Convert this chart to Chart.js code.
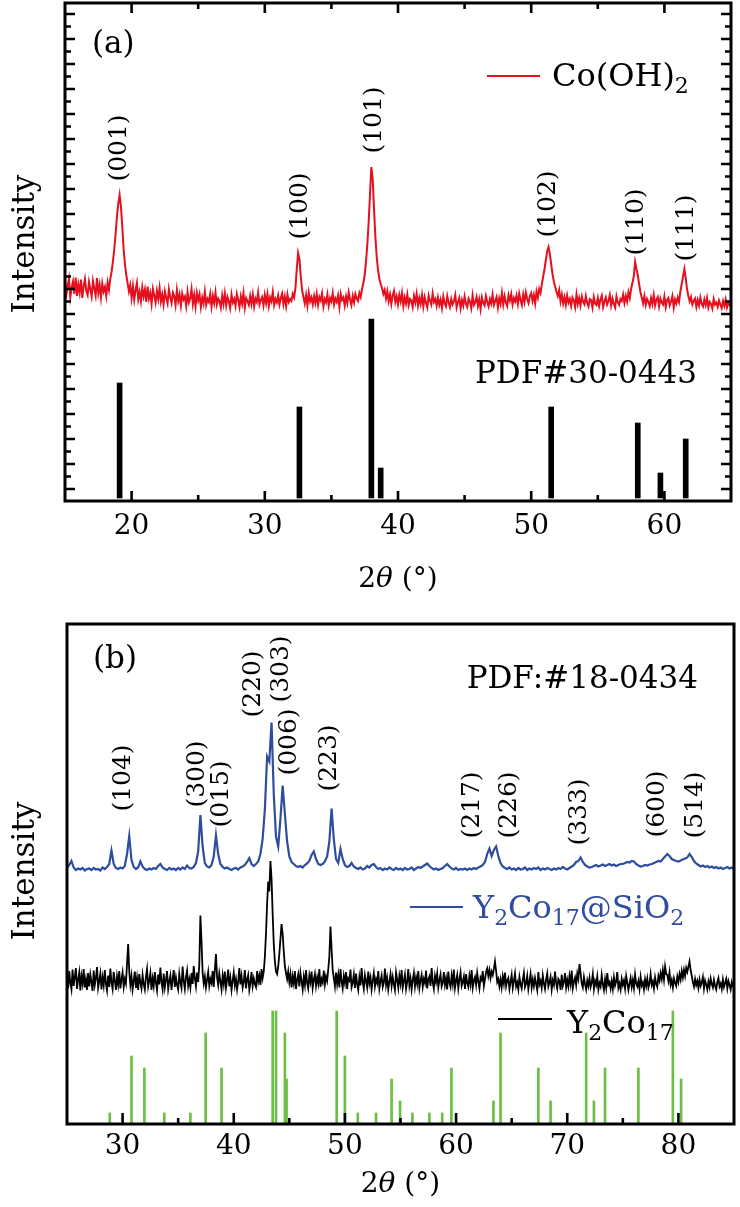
<!DOCTYPE html>
<html><head><meta charset="utf-8">
<script src="https://cdn.jsdelivr.net/npm/chart.js@4.4.1/dist/chart.umd.min.js"></script>
<style>
html,body{margin:0;padding:0;background:#fff;}
#wrap{position:relative;width:740px;height:1207px;overflow:hidden;}
#ca{position:absolute;left:0;top:0;}
#cb{position:absolute;left:0;top:600px;}
</style></head><body>
<div id="wrap">
<canvas id="ca" width="740" height="600"></canvas>
<canvas id="cb" width="740" height="607"></canvas>
</div>
<script>
// ---------- Panel (a) data ----------
const scanAStart = 15, scanAStep = 0.1;          // 2theta scan grid, degrees
const coOH2 = [
 41.8,38.9,40.6,42.1,38.4,40.2,41.5,39.0,42.3,38.6,
 40.9,39.3,41.9,38.2,40.5,42.0,39.6,38.8,41.4,39.9,
 38.5,41.6,40.1,38.7,42.2,39.2,40.8,38.3,41.1,39.5,
 40.4,38.6,41.3,39.8,42.0,43.5,45.5,48.0,51.0,54.5,
 57.0,58.8,56.5,52.5,48.0,45.0,42.8,41.2,39.5,40.8,
 38.2,40.6,37.9,39.8,41.2,38.0,39.4,37.6,40.3,38.5,
 39.9,37.4,40.5,38.1,39.2,37.0,40.0,38.7,37.3,39.6,
 38.0,40.2,37.5,38.9,36.9,39.5,38.2,37.1,40.0,38.4,
 37.2,39.3,38.6,36.8,39.8,37.6,38.9,36.7,39.1,37.9,
 38.5,36.6,39.4,37.3,38.1,40.0,37.0,38.8,36.5,39.2,
 37.7,38.9,36.4,38.3,37.1,39.5,36.8,38.0,37.4,39.0,
 36.5,38.6,37.2,39.3,36.9,38.1,37.6,36.3,38.7,37.0,
 39.1,36.7,38.4,37.5,36.2,38.9,37.3,38.0,36.6,39.0,
 37.8,36.4,38.5,37.1,39.2,36.3,38.2,37.6,36.8,38.6,
 37.0,38.9,36.5,38.1,37.4,39.3,36.9,37.8,38.4,36.7,
 38.8,37.2,39.0,36.6,38.3,37.5,39.4,36.8,38.0,37.3,
 38.7,36.9,38.2,39.1,37.0,38.5,36.6,38.9,37.4,38.0,
 37.6,39.0,38.3,40.2,44.0,47.2,46.0,42.5,39.8,38.4,
 37.1,38.8,36.7,39.2,37.5,38.3,36.9,38.6,37.2,39.0,
 36.8,38.4,37.7,39.1,36.5,38.0,37.3,38.9,36.7,38.2,
 37.5,39.2,36.9,38.1,37.4,38.7,36.4,39.0,37.8,38.3,
 36.7,38.5,37.2,39.3,37.9,36.8,38.6,37.3,39.0,38.1,
 37.6,39.2,38.4,40.0,41.2,42.8,45.5,49.0,53.5,59.0,
 64.4,62.0,56.0,50.5,46.5,43.8,42.0,41.0,40.2,39.0,
 39.8,38.1,39.5,37.6,38.9,37.0,38.7,39.6,37.4,38.5,
 36.9,38.8,37.5,39.2,36.6,38.3,37.1,38.9,36.8,38.0,
 37.7,36.4,38.6,37.3,39.0,36.7,38.2,37.0,38.8,36.5,
 38.4,37.2,36.3,38.7,37.6,36.9,39.1,37.4,38.0,36.6,
 38.3,36.8,37.9,36.2,38.5,37.1,36.5,38.6,37.3,36.4,
 38.0,36.9,37.6,38.8,36.3,37.4,38.2,36.1,37.8,36.7,
 38.5,37.0,36.4,38.1,37.5,36.2,38.7,36.8,37.3,38.4,
 36.6,37.9,36.0,38.3,37.2,36.7,38.6,37.4,36.5,38.0,
 37.1,38.9,36.8,37.6,38.4,36.3,38.1,37.0,39.2,36.9,
 38.6,37.3,36.6,38.8,37.7,39.0,36.9,38.2,37.5,38.7,
 37.0,39.1,37.8,36.8,38.9,37.4,39.3,38.0,37.2,38.6,
 39.2,37.6,38.8,37.1,39.5,38.3,40.0,39.2,41.0,42.5,
 44.0,45.8,47.5,48.4,47.0,45.0,43.0,41.5,40.5,39.4,
 38.6,39.8,37.5,38.9,37.1,38.4,36.8,38.7,37.3,38.0,
 36.6,38.3,37.7,36.4,38.9,37.0,38.2,36.7,38.5,37.4,
 36.9,38.6,37.2,36.5,38.0,37.8,36.3,38.4,37.1,36.8,
 38.2,36.6,37.9,38.7,36.4,37.5,38.3,36.9,37.6,38.8,
 36.7,38.1,37.0,36.3,38.5,37.3,36.8,38.0,37.6,38.9,
 37.2,38.6,37.5,39.4,38.2,40.0,41.2,42.5,45.4,44.0,
 42.8,41.0,39.4,38.3,37.1,38.6,36.8,38.0,37.4,36.6,
 38.2,37.0,38.8,36.7,37.9,38.4,36.5,38.1,37.3,36.9,
 38.5,36.4,37.8,38.2,36.7,37.5,38.6,36.3,37.9,37.1,
 38.3,37.4,39.5,41.0,42.5,44.0,42.2,40.0,38.6,37.5,
 38.4,36.9,37.6,38.1,36.4,37.8,36.7,38.3,37.0,36.5,
 37.9,36.8,38.2,36.3,37.4,37.0,36.1,38.0,36.9,37.3,
 36.4,37.7,36.9,36.2,37.6,36.6,37.9,36.3,37.1,36.8,
 36.5
];
const pdfA_angle = [19.1, 32.6, 38.0, 38.7, 51.5, 58.0, 59.7, 61.6];
const pdfA_int   = [21.2, 16.4, 34.0, 4.2, 16.4, 13.2, 3.2, 10.0];
const hklA       = ['(001)','(100)','(101)','(102)','(110)','(111)'];
const hklA_angle = [19.1, 32.65, 38.25, 51.3, 57.9, 61.65];
const hklA_level = [68.2, 56.6, 73.8, 57.0, 53.4, 52.2];

// ---------- Panel (b) data ----------
const blueStart = 25, blueStep = 0.2;
const y2co17SiO2 = [
 51.2,51.8,52.6,51.3,50.8,51.1,50.9,51.2,50.7,51.0,
 51.1,50.8,51.2,50.9,51.0,50.7,51.3,51.0,51.4,52.0,
 54.7,52.0,51.2,51.0,51.3,51.1,51.6,54.0,57.6,52.8,
 51.4,51.0,51.3,52.5,51.5,51.0,50.8,51.1,50.9,51.2,
 51.0,51.6,52.0,51.3,51.0,50.8,51.2,50.9,51.1,50.8,
 51.2,50.9,51.3,51.0,51.7,51.2,51.1,51.4,52.2,54.5,
 61.8,55.5,52.2,51.5,51.3,51.8,53.5,57.7,54.0,52.0,
 51.4,51.1,51.3,51.0,50.8,51.1,51.2,50.9,51.3,51.5,
 51.8,52.4,53.2,52.0,51.6,52.0,52.5,54.0,57.0,63.0,
 73.5,72.5,80.3,66.0,57.5,55.5,61.0,67.7,62.0,56.5,
 53.5,52.4,52.0,51.6,51.4,51.6,51.3,51.8,52.1,52.6,
 53.8,54.5,53.0,52.0,51.8,52.0,52.5,53.5,56.5,63.1,
 57.0,53.0,52.2,55.0,53.0,51.8,51.4,51.6,52.2,51.5,
 51.2,51.0,51.3,50.9,51.1,51.6,51.3,51.8,52.0,51.4,
 51.0,51.2,50.8,51.1,50.9,51.3,51.0,50.8,51.2,50.9,
 51.1,50.8,51.2,50.9,51.0,51.3,50.8,51.1,51.4,51.2,
 51.5,51.8,52.1,51.6,51.2,50.9,51.1,50.8,51.0,51.2,
 51.6,52.0,51.5,51.1,50.9,51.2,50.8,51.0,50.9,51.1,
 50.8,51.1,50.9,51.2,51.0,51.3,51.5,51.8,52.4,54.0,
 55.1,53.6,54.8,55.5,53.6,52.2,51.5,51.2,51.0,51.3,
 50.9,51.1,50.8,51.2,50.9,51.0,51.3,50.8,51.1,50.9,
 51.2,51.0,51.3,50.8,51.1,50.9,51.2,51.0,50.8,51.1,
 50.9,51.2,51.0,51.4,51.1,50.9,51.2,51.5,51.8,52.4,
 52.6,53.3,52.4,51.8,51.5,51.3,51.4,51.6,51.8,51.5,
 51.7,51.9,51.6,51.8,52.0,51.7,51.9,51.6,51.8,52.0,
 52.0,52.2,52.4,52.3,52.6,52.5,52.0,51.7,51.5,51.6,
 51.8,51.7,51.9,52.0,52.2,52.4,52.6,52.5,53.0,53.5,
 54.0,53.6,53.0,52.8,52.6,52.5,52.7,52.9,53.1,53.3,
 54.0,53.4,52.6,52.1,51.8,51.5,51.7,51.4,51.6,51.3,
 51.5,51.2,51.4,51.1,51.3,51.0,51.2,51.4,51.1,51.3,
 51.0
];
const blackStart = 25, blackStep = 0.1;
const y2co17 = [
 29.8,27.1,30.6,28.2,26.9,30.9,27.6,29.4,31.2,27.0,
 28.8,30.3,26.7,29.6,28.1,31.0,27.3,28.9,26.8,30.2,
 27.5,29.9,28.4,26.6,30.7,27.8,29.1,31.4,27.2,28.6,
 30.1,26.9,29.3,27.7,30.8,28.0,26.7,29.7,27.4,31.1,
 28.3,27.0,30.4,28.7,26.8,29.5,27.9,30.6,27.1,28.9,
 30.3,27.4,29.0,28.1,32.0,36.0,30.5,27.8,29.6,26.9,
 28.6,30.5,27.2,29.2,26.8,30.0,28.3,27.1,29.8,28.0,
 26.9,29.4,31.0,27.5,28.7,30.2,26.8,29.1,27.6,30.4,
 28.2,26.7,29.9,27.9,31.3,28.4,26.9,30.1,27.3,28.8,
 30.6,27.0,28.5,29.7,26.8,28.9,30.8,27.4,29.3,27.8,
 26.9,30.0,28.3,27.2,31.5,28.6,27.0,29.4,30.7,27.6,
 28.9,27.3,30.2,28.0,31.6,29.1,27.5,30.3,28.4,31.8,
 41.7,36.5,30.2,28.1,29.5,27.3,28.9,30.4,27.6,29.0,
 28.2,30.6,27.4,31.0,34.0,29.3,27.8,30.1,28.5,26.9,
 29.7,28.0,30.5,27.2,28.8,30.9,27.5,29.2,26.8,28.6,
 30.3,27.7,29.0,26.9,28.4,31.2,27.9,29.6,27.3,28.5,
 30.8,27.1,28.9,29.8,26.8,28.2,30.4,27.6,29.1,28.0,
 27.4,30.6,28.5,29.7,27.8,31.0,29.2,30.5,33.5,38.0,
 44.0,48.5,46.5,52.6,49.0,42.0,36.0,32.5,30.5,30.0,
 31.5,34.0,37.0,40.0,38.0,34.5,31.5,30.2,29.0,30.5,
 28.4,30.0,27.3,29.5,28.1,30.6,27.0,28.8,29.9,27.5,
 30.2,28.6,26.9,29.4,27.8,30.8,28.2,27.1,29.7,28.4,
 30.5,27.2,28.8,30.0,27.6,29.3,28.1,31.0,27.4,29.0,
 28.3,30.7,27.9,29.5,28.6,30.9,33.5,39.5,35.0,30.8,
 29.2,27.5,30.3,28.0,29.8,27.3,31.0,28.5,27.1,29.6,
 28.2,30.4,27.0,29.1,28.7,30.9,27.4,28.3,29.9,27.2,
 30.1,28.0,26.8,29.4,27.7,31.2,28.4,27.0,29.8,28.6,
 27.3,30.5,28.1,29.3,26.9,28.7,30.2,27.5,29.0,28.2,
 30.6,27.1,28.6,29.7,27.4,28.3,31.1,27.8,29.2,26.9,
 28.5,30.0,27.6,29.4,28.0,26.8,30.3,28.9,27.2,29.6,
 28.1,30.8,27.3,28.6,29.9,27.0,28.4,31.0,27.7,29.1,
 26.9,28.8,30.2,27.5,29.3,28.0,30.6,27.2,28.7,29.8,
 27.4,29.0,28.2,30.7,27.1,28.9,29.5,27.6,31.2,28.3,
 27.0,29.6,28.4,30.1,27.3,28.8,29.9,27.5,28.2,30.4,
 27.8,29.1,26.9,30.5,28.3,27.4,29.7,28.0,30.9,27.2,
 28.6,29.8,27.1,28.9,30.3,27.6,28.4,29.5,27.0,30.0,
 28.2,27.4,29.6,28.0,30.8,27.3,28.7,29.4,27.8,30.2,
 28.5,27.1,29.3,28.8,30.6,27.6,29.0,30.4,31.1,29.6,
 30.8,29.2,30.5,29.8,31.0,32.5,30.6,28.4,29.0,27.5,
 28.9,27.3,29.5,28.1,30.3,27.6,28.7,29.2,27.0,28.4,
 29.8,27.2,28.6,30.1,27.5,28.3,26.9,29.4,28.0,27.1,
 28.8,30.2,27.4,28.1,29.6,27.0,28.5,30.0,27.3,28.9,
 27.6,29.2,28.0,26.8,30.4,27.9,28.6,27.2,29.7,28.1,
 27.0,28.9,30.1,27.5,28.3,29.4,26.9,28.7,27.8,30.5,
 28.2,27.1,29.0,28.6,26.8,29.9,27.6,28.4,30.2,27.3,
 28.8,27.5,29.6,28.0,30.7,27.2,28.5,29.3,27.8,30.1,
 29.0,32.0,30.2,28.1,27.3,29.4,28.0,26.9,28.7,27.6,
 29.2,27.4,28.3,30.0,27.0,28.6,27.8,29.5,26.9,28.2,
 27.5,29.8,28.0,26.8,28.9,27.3,30.2,27.9,28.4,27.1,
 28.6,27.0,29.3,27.7,28.5,30.4,27.2,28.1,26.9,29.0,
 27.8,28.7,27.1,29.6,28.3,26.8,28.0,29.2,27.4,28.8,
 27.2,29.9,28.1,27.5,28.6,27.0,29.4,27.7,28.3,26.9,
 28.9,27.6,29.1,27.3,28.2,30.0,27.8,28.5,27.1,29.3,
 28.0,27.4,29.6,28.7,30.2,29.0,30.8,28.9,31.5,30.0,
 29.8,28.6,30.3,27.9,28.8,27.3,29.1,28.2,27.6,29.5,
 28.4,30.0,28.9,30.6,29.3,30.8,29.6,31.2,30.4,31.5,
 32.5,30.8,29.6,28.4,27.5,29.0,27.8,28.6,27.2,28.9,
 27.6,28.3,29.4,27.1,28.7,27.9,26.9,28.5,27.4,29.1,
 28.0,27.3,28.8,27.6,26.9,28.4,29.2,27.5,28.1,27.0,
 28.9,27.4,28.2,29.0,27.1,28.6,27.8,26.9,28.4,27.6,
 28.0
];
const pdfB_angle = [28.85,30.8,31.96,33.75,36.1,37.47,38.9,43.5,43.8,44.6,44.75,49.26,50.0,51.16,52.8,54.2,54.96,56.07,57.6,58.75,59.58,63.36,64.0,67.4,68.5,71.7,72.4,73.4,76.4,79.5,80.24];
const pdfB_int   = [2.2,13.6,11.2,2.2,2.2,18.2,11.2,22.6,22.6,18.2,9.0,22.6,13.6,2.2,2.2,9.0,4.6,2.2,2.2,2.2,11.2,4.6,18.2,11.2,4.6,18.2,4.6,11.2,11.2,22.6,9.0];
const hklB       = ['(104)','(300)','(015)','(220)','(303)','(006)','(223)','(217)','(226)','(333)','(600)','(514)'];
const hklB_angle = [30.1, 36.7, 38.93, 41.79, 44.29, 45.0, 48.6, 61.5, 64.8, 71.07, 78.1, 81.5];
const hklB_level = [69.2, 70.0, 66.0, 88.0, 91.0, 76.4, 73.2, 63.8, 63.8, 62.4, 64.0, 63.8];

// ---------- styles ----------
const FONT = '"DejaVu Serif", "Liberation Serif", serif';
const RED = '#e60f1e', BLUE = '#2f4d9e', GREEN = '#6cbf44';

function richText(ctx, x, y, segs, size, color, align){
  ctx.save(); ctx.fillStyle = color; ctx.textBaseline = 'alphabetic'; ctx.textAlign = 'left';
  let w = 0;
  const parts = segs.map(([t,k]) => {
    const f = k === 's' ? `${Math.round(size*0.7)}px ${FONT}` : (k === 'i' ? `italic ${size}px ${FONT}` : `${size}px ${FONT}`);
    ctx.font = f; const m = ctx.measureText(t).width; w += m; return {t, f, m, k};
  });
  let cx = align === 'right' ? x - w : (align === 'center' ? x - w/2 : x);
  parts.forEach(p => { ctx.font = p.f; ctx.fillText(p.t, cx, p.k === 's' ? y + size*0.22 : y); cx += p.m; });
  ctx.restore();
}

function makeDecor(cfg){
  return {
    id: 'decor',
    afterDraw(chart){
      const ctx = chart.ctx, a = chart.chartArea, xs = chart.scales.x, ys = chart.scales.y;
      ctx.save();
      ctx.strokeStyle = '#000'; ctx.lineWidth = 2.6; ctx.lineCap = 'butt';
      for (let v = Math.ceil(xs.min/5)*5; v <= xs.max + 1e-9; v += 5) {
        const px = xs.getPixelForValue(v);
        if (px <= a.left + 2 || px >= a.right - 2) continue;
        const major = Math.round(v) % 10 === 0;
        const len = major ? cfg.xMajor : cfg.xMinor;
        ctx.beginPath(); ctx.moveTo(px, a.bottom); ctx.lineTo(px, a.bottom - len);
        if (cfg.topTicks) { ctx.moveTo(px, a.top); ctx.lineTo(px, a.top + len); }
        ctx.stroke();
      }
      if (cfg.yTicks) {
        for (let v = Math.ceil(ys.min/2.5)*2.5; v <= ys.max; v += 2.5) {
          const py = ys.getPixelForValue(v);
          if (py <= a.top + 2 || py >= a.bottom - 2) continue;
          const major = Math.abs(v/5 - Math.round(v/5)) < 1e-6;
          const len = major ? 10 : 6;
          ctx.beginPath();
          ctx.moveTo(a.left, py); ctx.lineTo(a.left + len, py);
          ctx.moveTo(a.right, py); ctx.lineTo(a.right - len, py);
          ctx.stroke();
        }
      }
      ctx.lineWidth = 3;
      ctx.strokeRect(a.left, a.top, a.right - a.left, a.bottom - a.top);

      // rotated Miller-index labels
      ctx.fillStyle = '#000'; ctx.font = `25px ${FONT}`; ctx.textAlign = 'center'; ctx.textBaseline = 'middle';
      cfg.hkl.forEach((t, i) => {
        const px = xs.getPixelForValue(cfg.hklAngle[i]);
        const py = ys.getPixelForValue(cfg.hklLevel[i]);
        ctx.save(); ctx.translate(px, py); ctx.rotate(-Math.PI/2); ctx.fillText(t, 0, 0); ctx.restore();
      });

      // y axis title
      ctx.save(); ctx.translate(34, cfg.yTitleY); ctx.rotate(-Math.PI/2);
      ctx.font = `31px ${FONT}`; ctx.textAlign = 'center'; ctx.textBaseline = 'alphabetic';
      ctx.fillText('Intensity', 0, 0); ctx.restore();

      // x axis title
      richText(ctx, (a.left + a.right)/2, cfg.xTitleY, [['2','n'],['θ','i'],[' (°)','n']], 28, '#000', 'center');

      // panel letter
      ctx.font = `31px ${FONT}`; ctx.textAlign = 'left'; ctx.textBaseline = 'middle'; ctx.fillStyle = '#000';
      ctx.fillText(cfg.panel, cfg.panelX, cfg.panelY);

      // card number
      richText(ctx, cfg.pdfX, cfg.pdfY, [[cfg.pdf,'n']], 31, '#000', 'right');

      // legends
      cfg.legends.forEach(L => {
        ctx.strokeStyle = L.color; ctx.lineWidth = 2;
        ctx.beginPath(); ctx.moveTo(L.x0, L.ly); ctx.lineTo(L.x1, L.ly); ctx.stroke();
        richText(ctx, L.tx, L.ty, L.segs, 32, L.textColor, 'left');
      });
      ctx.restore();
    }
  };
}

function scaleX(min, max, h, pad){
  return {type:'linear', min, max, offset:false,
    grid:{display:false, drawTicks:false}, border:{display:false},
    ticks:{stepSize:5, autoSkip:false, maxRotation:0, minRotation:0, padding:pad, color:'#000',
      font:{family:FONT, size:28}, callback:v => (Math.round(v) % 10 === 0 ? String(v) : '')},
    afterFit(s){ s.height = h; }};
}
function scaleY(min, max, w){
  return {type:'linear', min, max, display:true,
    grid:{display:false, drawTicks:false}, border:{display:false},
    ticks:{display:false}, afterFit(s){ s.width = w; }};
}
const onGrid = (start, step) => (v, i) => ({x: +(start + i*step).toFixed(2), y: v});

// ---------- chart (a) ----------
new Chart(document.getElementById('ca'), {
  type:'line',
  data:{datasets:[
    {type:'line', data: coOH2.map(onGrid(scanAStart, scanAStep)),
     borderColor: RED, borderWidth: 2, pointRadius: 0, tension: 0, fill: false},
    {type:'bar', data: pdfA_angle.map((t,i) => ({x: t, y: pdfA_int[i]})),
     backgroundColor: '#000', barThickness: 5, base: -1.8, grouped: false}
  ]},
  options:{responsive:false, animation:false, events:[],
    layout:{padding:{top:3, right:4, left:0, bottom:0}},
    plugins:{legend:{display:false}, tooltip:{enabled:false}},
    scales:{x: scaleX(15, 65, 99, 9), y: scaleY(-2.4, 97.2, 65)}},
  plugins:[makeDecor({
    xMajor:10, xMinor:6, topTicks:true, yTicks:true,
    hkl: hklA, hklAngle: hklA_angle, hklLevel: hklA_level,
    yTitleY: 244, xTitleY: 587,
    panel:'(a)', panelX: 92, panelY: 45,
    pdf:'PDF#30-0443', pdfX: 697, pdfY: 383,
    legends:[{color:RED, x0:487, x1:540, ly:76, tx:552, ty:86, textColor:'#000', segs:[['Co(OH)','n'],['2','s']]}]
  })]
});

// ---------- chart (b) ----------
new Chart(document.getElementById('cb'), {
  type:'line',
  data:{datasets:[
    {type:'line', data: y2co17SiO2.map(onGrid(blueStart, blueStep)),
     borderColor: BLUE, borderWidth: 2.2, pointRadius: 0, tension: 0, fill: false},
    {type:'line', data: y2co17.map(onGrid(blackStart, blackStep)),
     borderColor: '#000', borderWidth: 1.8, pointRadius: 0, tension: 0, fill: false},
    {type:'bar', data: pdfB_angle.map((t,i) => ({x: t, y: pdfB_int[i]})),
     backgroundColor: GREEN, barThickness: 2, base: 0, grouped: false}
  ]},
  options:{responsive:false, animation:false, events:[],
    layout:{padding:{top:24, right:2, left:0, bottom:0}},
    plugins:{legend:{display:false}, tooltip:{enabled:false}},
    scales:{x: scaleX(25, 85, 83, 6), y: scaleY(0, 100, 67)}},
  plugins:[makeDecor({
    xMajor:11, xMinor:6, topTicks:false, yTicks:false,
    hkl: hklB, hklAngle: hklB_angle, hklLevel: hklB_level,
    yTitleY: 271, xTitleY: 592,
    panel:'(b)', panelX: 93, panelY: 60,
    pdf:'PDF:#18-0434', pdfX: 698, pdfY: 88,
    legends:[
      {color:BLUE, x0:410, x1:463, ly:307, tx:473, ty:318, textColor:BLUE, segs:[['Y','n'],['2','s'],['Co','n'],['17','s'],['@SiO','n'],['2','s']]},
      {color:'#000', x0:498, x1:552, ly:419, tx:567, ty:433, textColor:'#000', segs:[['Y','n'],['2','s'],['Co','n'],['17','s']]}
    ]
  })]
});
</script>
</body></html>
